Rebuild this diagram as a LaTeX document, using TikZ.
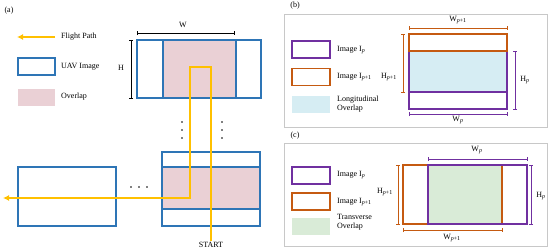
\documentclass[tikz,border=0pt]{standalone}
\usepackage{fontspec}
\setmainfont{Liberation Serif}
\usetikzlibrary{arrows.meta}

\definecolor{uavblue}{RGB}{46,117,182}
\definecolor{pathyellow}{RGB}{255,192,0}
\definecolor{overlappink}{RGB}{234,208,213}
\definecolor{imgpurple}{RGB}{112,48,160}
\definecolor{imgorange}{RGB}{197,90,17}
\definecolor{longcyan}{RGB}{214,237,243}
\definecolor{transgreen}{RGB}{217,235,215}
\definecolor{framegray}{RGB}{200,200,200}

\tikzset{
  uav/.style={draw=uavblue, line width=1.1pt},
  imgp/.style={draw=imgpurple, line width=1.1pt},
  imgq/.style={draw=imgorange, line width=1.1pt},
  legbox/.style={minimum width=38, minimum height=17, inner sep=0pt},
  dimline/.style={line width=0.5pt, {Bar[width=4pt]}-{Bar[width=4pt]}},
  lab/.style={font=\fontsize{8}{9}\selectfont, inner sep=1pt},
  flight/.style={draw=pathyellow, line width=1.3pt},
  panel/.style={draw=framegray, line width=0.7pt},
}

\begin{document}
\begin{tikzpicture}[x=1pt, y=-1pt]
  \useasboundingbox (0,0) rectangle (550,250);

    % ========== (a) 航线与重叠 ==========
    \begin{scope}[local bounding box=left]
      \node[lab] (labA) at (9,11) {(a)};

      % 图例
      \coordinate (fpR) at (55,37);
      \coordinate (fpL) at (17,37);
      \draw[flight, -{Latex[length=6pt, width=6pt]}] (fpR) -- (fpL);
      \node[lab, anchor=west] (fpText) at (60,37) {Flight Path};
      \node[uav, legbox, minimum width=37] (legUav) at (36.5,66.5) {};
      \node[lab, anchor=west] (uavText) at (60,67) {UAV Image};
      \node[fill=overlappink, legbox, minimum width=37] (legOv) at (36.5,97) {};
      \node[lab, anchor=west] (ovText) at (60,97) {Overlap};

      % 上方：旁向重叠
      \fill[overlappink] (163,40) rectangle (236,98);
      \draw[uav] (137,40) rectangle (261,98);
      \draw[uav] (163,40) -- (163,98) (236,40) -- (236,98);
      \draw[dimline] (137,33) -- (234,33);
      \node[lab] (wLab) at (183,25) {W};
      \draw[dimline] (131,40) -- (131,98);
      \node[lab] (hLab) at (121,68) {H};

      % 省略号
      \foreach \y in {122,130,138} {
        \fill (182,\y) circle[radius=0.8];
        \fill (222,\y) circle[radius=0.8];
      }
      \foreach \x in {131,139,147}
        \fill (\x,187) circle[radius=0.8];

      % 下方：航向重叠
      \fill[overlappink] (162,167) rectangle (260,209);
      \draw[uav] (162,152) rectangle (260,226);
      \draw[uav] (162,167) -- (260,167) (162,209) -- (260,209);
      \draw[uav] (18,167) rectangle (116,226);

      % 航线
      \node[lab] (start) at (211,245) {START};
      \coordinate (turnA) at (190,67);
      \coordinate (pathEnd) at (3,198);
      \draw[flight, -{Latex[length=6pt, width=6pt]}]
           (start.north) |- (turnA) |- (pathEnd);
    \end{scope}

    % ========== (b) 航向重叠 ==========
    \begin{scope}[local bounding box=upper]
      \draw[panel] (284,14) rectangle (547,127);
      \node[lab] (labB) at (295,6) {(b)};

      \node[imgp, legbox] (legPb) at (311,49.5) {};
      \node[lab, anchor=west] (txtPb) at (336,50) {Image I\textsubscript{\textit{p}}};
      \node[imgq, legbox] (legQb) at (311,77) {};
      \node[lab, anchor=west] (txtQb) at (336,77) {Image I\textsubscript{\textit{p}+1}};
      \node[fill=longcyan, legbox] (legLb) at (311,104.5) {};
      \node[lab, anchor=west, align=left] (txtLb) at (336,104.5) {Longitudinal\\Overlap};

      \fill[longcyan] (409,51) rectangle (507,92);
      \draw[imgp] (409,51) rectangle (507,109);
      \draw[imgp] (409,92) -- (507,92);
      \draw[imgq] (409,34) rectangle (507,51);

      \draw[dimline, imgorange] (409,28) -- (507,28);
      \node[lab] (wQb) at (458,20) {W\textsubscript{\textit{p}+1}};
      \draw[dimline, imgorange] (403,34) -- (403,92);
      \node[lab] (hQb) at (389,77) {H\textsubscript{\textit{p}+1}};
      \draw[dimline, imgpurple] (515,51) -- (515,109);
      \node[lab] (hPb) at (525,80) {H\textsubscript{\textit{p}}};
      \draw[dimline, imgpurple] (409,114) -- (507,114);
      \node[lab] (wPb) at (458,120) {W\textsubscript{\textit{p}}};
    \end{scope}

    % ========== (c) 旁向重叠 ==========
    \begin{scope}[local bounding box=lower]
      \draw[panel] (284,143) rectangle (547,246);
      \node[lab] (labC) at (295,136) {(c)};

      \node[imgp, legbox] (legPc) at (311,175.5) {};
      \node[lab, anchor=west] (txtPc) at (336,175.5) {Image I\textsubscript{\textit{p}}};
      \node[imgq, legbox] (legQc) at (311,201.5) {};
      \node[lab, anchor=west] (txtQc) at (336,202) {Image I\textsubscript{\textit{p}+1}};
      \node[fill=transgreen, legbox] (legTc) at (311,226.5) {};
      \node[lab, anchor=west, align=left] (txtTc) at (336,222) {Transverse\\Overlap};

      \fill[transgreen] (428,165) rectangle (502,224);
      \draw[imgq] (403,165) rectangle (502,224);
      \draw[imgp] (428,165) rectangle (527,224);

      \draw[dimline, imgpurple] (428,159) -- (527,159);
      \node[lab] (wPc) at (477,150) {W\textsubscript{\textit{p}}};
      \draw[dimline, imgorange] (398,165) -- (398,224);
      \node[lab] (hQc) at (385,192) {H\textsubscript{\textit{p}+1}};
      \draw[dimline, imgpurple] (531,165) -- (531,224);
      \node[lab] (hPc) at (541,196) {H\textsubscript{\textit{p}}};
      \draw[dimline, imgorange] (403,230) -- (502,230);
      \node[lab] (wQc) at (452,238) {W\textsubscript{\textit{p}+1}};
    \end{scope}

\end{tikzpicture}
\end{document}
